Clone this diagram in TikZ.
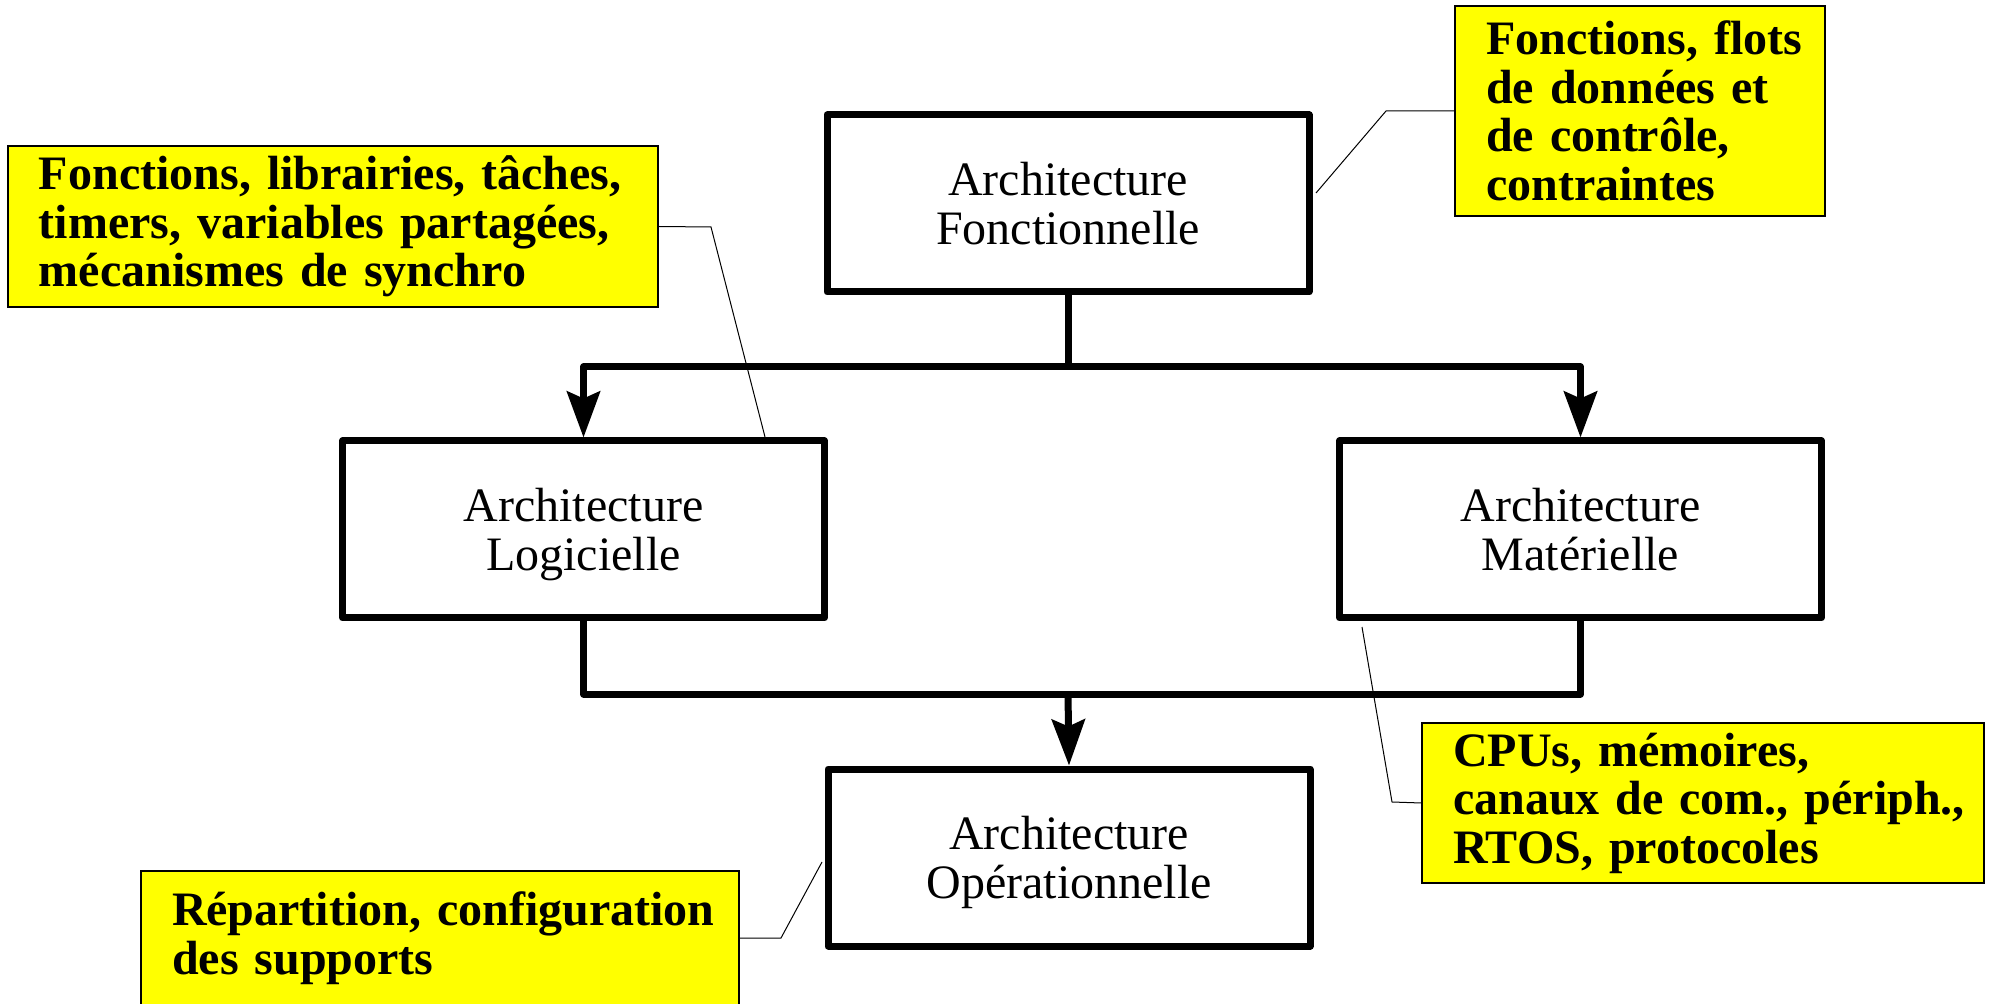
\documentclass[tikz,border=0pt]{standalone}
\usepackage{fontspec}
\setmainfont{Liberation Serif}
\usetikzlibrary{arrows.meta}
\definecolor{notefill}{RGB}{255,255,0}
\begin{document}
\begin{tikzpicture}[x=0.5pt,y=-0.5pt,
  archbox/.style={draw, line width=3.5pt, line join=round, fill=white,
    minimum width=241pt, minimum height=88.5pt, inner sep=0pt, align=center,
    text depth=0pt, font=\fontsize{24pt}{24.5pt}\selectfont},
  note/.style={draw=black, line width=0.6pt, fill=notefill, inner xsep=15.5pt,
    inner ysep=0pt, align=left, font=\fontsize{24pt}{24.25pt}\selectfont\bfseries},
  flow/.style={line width=3.5pt, line join=round},
  feed/.style={flow, -{Stealth[length=23pt, width=16.5pt, inset=3.5pt]}},
  leader/.style={line width=0.5pt, draw=black}]
\useasboundingbox (0,0) rectangle (1990,1004);

% architecture levels
\node[archbox] (F) at (1068,203.5) {Architecture\\Fonctionnelle};
\node[archbox] (L) at (583.5,529.5) {Architecture\\Logicielle};
\node[archbox] (M) at (1580.5,529.5) {Architecture\\Matérielle};
\node[archbox] (O) at (1069,857.5) {Architecture\\Opérationnelle};

% branching and merging points
\coordinate (split) at (1068,367);
\coordinate (merge) at (1068,694);

\draw[flow] (F.south) -- (split);
\draw[feed] (split) -| (L.north);
\draw[feed] (split) -| (M.north);
\draw[flow] (L.south) |- (merge) -| (M.south);
\draw[feed] (merge) -- (O.north);

% annotations
\node[note, minimum width=185pt, minimum height=105pt, text width=154pt] (Y1) at (1640,111)
  {\mbox{Fonctions, flots}\\\mbox{de données et}\\\mbox{de contrôle,}\\\mbox{contraintes}};
\node[note, minimum width=325pt, minimum height=80.5pt, text width=294pt] (Y2) at (333,226.5)
  {\mbox{Fonctions, librairies, tâches,}\\\mbox{timers, variables partagées,}\\\mbox{mécanismes de synchro}};
\node[note, minimum width=281pt, minimum height=80pt, text width=250pt] (Y3) at (1703,803)
  {\mbox{CPUs, mémoires,}\\\mbox{canaux de com., périph.,}\\\mbox{RTOS, protocoles}};
\node[note, minimum width=299pt, minimum height=67pt, text width=268pt] (Y4) at (440,938)
  {\mbox{Répartition, configuration}\\\mbox{des supports}};

% leader lines
\coordinate (k1) at (1386,111);  \coordinate (e1) at (1316,193);
\coordinate (k2) at (711,227);   \coordinate (e2) at (765,437);
\coordinate (k3) at (1392,802);  \coordinate (e3) at (1362,627);
\coordinate (k4) at (781,938);   \coordinate (e4) at (822,862);
\draw[leader] (Y1.west) -- (k1) -- (e1);
\draw[leader] (Y2.east) -- (k2) -- (e2);
\draw[leader] (Y3.west) -- (k3) -- (e3);
\draw[leader] (Y4.east) -- (k4) -- (e4);
\end{tikzpicture}
\end{document}
